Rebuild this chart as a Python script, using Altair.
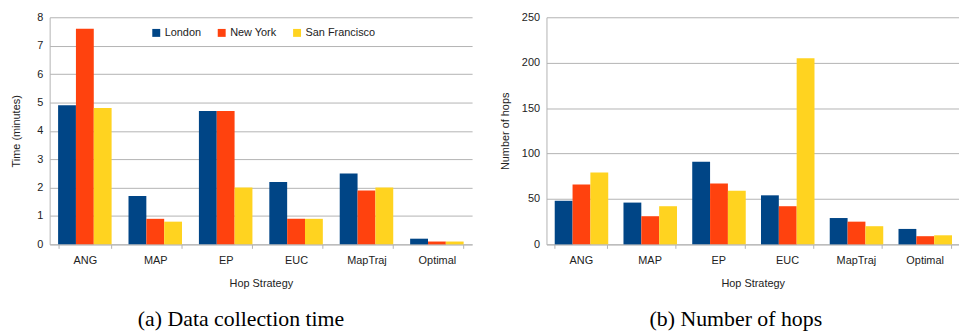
import altair as alt
import pandas as pd

strategies = ["ANG", "MAP", "EP", "EUC", "MapTraj", "Optimal"]
cities = ["London", "New York", "San Francisco"]
colors = ["#004586", "#ff420e", "#ffd320"]

time_london = [4.9, 1.7, 4.7, 2.2, 2.5, 0.2]
time_newyork = [7.6, 0.9, 4.7, 0.9, 1.9, 0.1]
time_sf = [4.8, 0.8, 2.0, 0.9, 2.0, 0.1]

hops_london = [48, 46, 91, 54, 29, 17]
hops_newyork = [66, 31, 67, 42, 25, 9]
hops_sf = [79, 42, 59, 205, 20, 10]

time_ticks = [0, 1, 2, 3, 4, 5, 6, 7, 8]
hops_ticks = [0, 50, 100, 150, 200, 250]


def long_table(series):
    rows = []
    for city, vals in zip(cities, series):
        for s, v in zip(strategies, vals):
            rows.append({"strategy": s, "city": city, "value": v})
    return pd.DataFrame(rows)


time_df = long_table([time_london, time_newyork, time_sf])
hops_df = long_table([hops_london, hops_newyork, hops_sf])

GRID = "#b3b3b3"
TXT = "#222222"


def panel(df, ticks, ytitle, caption, width, title_pad, legend, dx):
    return alt.Chart(df).mark_bar().encode(
        x=alt.X("strategy:N", sort=strategies,
                scale=alt.Scale(paddingInner=0.24, paddingOuter=0.12),
                axis=alt.Axis(title="Hop Strategy", labelAngle=0, tickBand="extent",
                              grid=False, tickSize=4, labelPadding=6, titlePadding=12)),
        xOffset=alt.XOffset("city:N", sort=cities,
                            scale=alt.Scale(paddingInner=0, paddingOuter=0)),
        y=alt.Y("value:Q", scale=alt.Scale(domain=[ticks[0], ticks[-1]], nice=False),
                axis=alt.Axis(values=ticks, title=ytitle, ticks=False, labelPadding=7,
                              titlePadding=title_pad)),
        color=alt.Color("city:N", sort=cities,
                        scale=alt.Scale(domain=cities, range=colors), legend=legend),
    ).properties(
        width=width, height=229,
        title=alt.TitleParams(caption, orient="bottom", anchor="middle", frame="group",
                              dx=dx, offset=21, font="Liberation Serif", fontSize=22,
                              fontWeight="normal", color="black"),
    )


legend = alt.Legend(title=None, orient="none", direction="horizontal", legendX=102,
                    legendY=10, symbolType="square", symbolSize=64, symbolStrokeWidth=0,
                    labelFontSize=11, labelOffset=3, columnPadding=15, labelColor=TXT,
                    labelFont="Liberation Sans")

left = panel(time_df, time_ticks, "Time (minutes)", "(a) Data collection time", 426, 15,
             legend, -20)
right = panel(hops_df, hops_ticks, "Number of hops", "(b) Number of hops", 416, 11,
              None, -17)

chart = alt.hconcat(left, right, spacing=27).resolve_scale(
    color="independent", y="independent", x="independent"
).configure_view(stroke=None).configure_axis(
    labelFont="Liberation Sans", titleFont="Liberation Sans", labelFontSize=11,
    titleFontSize=11, titleFontWeight="normal", labelColor=TXT, titleColor=TXT,
    gridColor=GRID, domainColor=GRID, tickColor=GRID, gridWidth=1,
).properties(padding={"left": 2, "top": 2, "right": 0, "bottom": 0})

chart.save("out.html", embed_options={"renderer": "svg", "actions": False})
